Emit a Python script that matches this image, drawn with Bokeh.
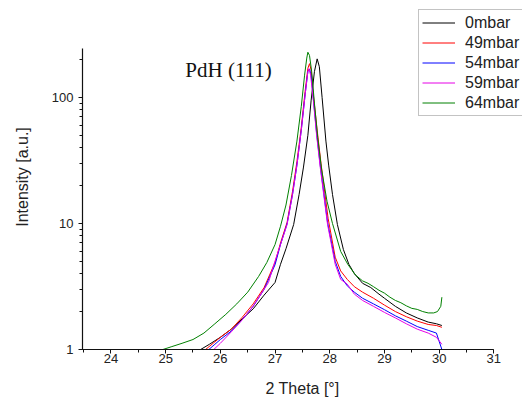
from bokeh.plotting import figure
from bokeh.models import (Range1d, SingleIntervalTicker, LogTicker, BasicTickFormatter,
                          Legend, LegendItem, Label)
from bokeh.embed import file_html
from bokeh.resources import INLINE

# ---- data ----
x_0 = [25.64, 25.8, 26.0, 26.2, 26.4, 26.6, 26.8, 27.0, 27.1, 27.2, 27.34, 27.44, 27.52,
       27.60, 27.66, 27.72, 27.77, 27.81, 27.86, 27.93, 27.98, 28.05, 28.14, 28.25, 28.35,
       28.45, 28.6, 28.75, 28.9, 29.0, 29.2, 29.4, 29.6, 29.8, 29.95, 30.05]
y_0 = [1.0, 1.1, 1.25, 1.45, 1.75, 2.1, 2.7, 3.4, 4.74, 6.3, 9.8, 17, 28,
       50, 95, 160, 202, 175, 100, 45, 29, 17, 9.8, 6.2, 4.74,
       4.0, 3.35, 3.1, 2.75, 2.55, 2.2, 1.95, 1.78, 1.65, 1.6, 1.55]

x_49 = [25.73, 25.9, 26.0, 26.2, 26.4, 26.6, 26.8, 27.0, 27.1, 27.22, 27.32, 27.40, 27.48,
        27.55, 27.60, 27.63, 27.66, 27.70, 27.77, 27.84, 27.97, 28.1, 28.2, 28.32, 28.45,
        28.6, 28.8, 29.0, 29.2, 29.4, 29.6, 29.8, 29.95, 30.05]
y_49 = [1.0, 1.15, 1.25, 1.45, 1.8, 2.3, 3.1, 4.9, 7.0, 10.2, 18, 31, 58,
        112, 170, 185, 165, 105, 55, 30, 11, 5.4, 4.2, 3.6, 3.15,
        2.85, 2.55, 2.25, 2.0, 1.82, 1.68, 1.58, 1.55, 1.5]

x_54 = [25.79, 25.9, 26.0, 26.2, 26.4, 26.6, 26.8, 27.0, 27.1, 27.22, 27.32, 27.40, 27.48,
        27.55, 27.60, 27.63, 27.66, 27.70, 27.76, 27.83, 27.96, 28.1, 28.2, 28.32, 28.45,
        28.6, 28.8, 29.0, 29.2, 29.4, 29.6, 29.8, 29.95, 30.05]
y_54 = [1.0, 1.1, 1.2, 1.4, 1.72, 2.2, 3.0, 4.7, 6.8, 9.9, 17, 29, 55,
        105, 160, 168, 150, 98, 52, 28, 10.2, 5.0, 3.8, 3.2, 2.85,
        2.55, 2.3, 2.07, 1.85, 1.68, 1.52, 1.42, 1.35, 1.0]

x_59 = [25.88, 26.0, 26.2, 26.4, 26.6, 26.8, 26.88, 26.98, 27.1, 27.22, 27.32, 27.40, 27.48,
        27.55, 27.60, 27.62, 27.65, 27.70, 27.76, 27.83, 27.96, 28.1, 28.2, 28.32, 28.45,
        28.6, 28.8, 29.0, 29.2, 29.4, 29.6, 29.8, 29.95, 30.05]
y_59 = [1.0, 1.12, 1.38, 1.72, 2.2, 3.0, 3.4, 4.74, 6.8, 9.8, 17, 29, 55,
        105, 160, 169, 150, 95, 50, 27, 9.8, 4.74, 3.6, 3.3, 2.75,
        2.45, 2.2, 1.97, 1.78, 1.6, 1.45, 1.35, 1.25, 1.1]

x_64 = [24.95, 25.1, 25.3, 25.5, 25.7, 25.9, 26.1, 26.3, 26.5, 26.7, 26.85, 27.0, 27.1,
        27.2, 27.3, 27.4, 27.48, 27.54, 27.58, 27.60, 27.63, 27.67, 27.72, 27.78, 27.85,
        27.95, 28.05, 28.2, 28.33, 28.47, 28.6, 28.7, 28.8, 28.9, 29.0, 29.1, 29.2, 29.3,
        29.4, 29.5, 29.6, 29.7, 29.8, 29.9, 29.97, 30.03, 30.05]
y_64 = [1.0, 1.05, 1.12, 1.2, 1.35, 1.6, 1.9, 2.3, 2.85, 3.8, 4.9, 6.8, 9.5,
        14, 24, 45, 85, 150, 205, 228, 215, 160, 90, 48, 27,
        15, 10, 6.0, 4.74, 3.9, 3.5, 3.35, 3.15, 2.95, 2.8, 2.6, 2.45, 2.35,
        2.22, 2.12, 2.08, 2.0, 1.95, 1.95, 2.0, 2.2, 2.6]

series_labels = ["0mbar", "49mbar", "54mbar", "59mbar", "64mbar"]
series_x = [x_0, x_49, x_54, x_59, x_64]
series_y = [y_0, y_49, y_54, y_59, y_64]
series_colors = ["#000000", "#ff0000", "#0000ff", "#e600e6", "#008000"]

annotation_text = "PdH (111)"
annotation_pos = (26.15, 165)

x_label = "2 Theta [°]"
y_label = "Intensity [a.u.]"

x_axis_span = (23.48, 31)
y_axis_span = (1, 245)

# ---- layout (pixels) ----
W, H = 522, 399
LEFT, TOP, BOTTOM = 82, 4, 48
PX_PER_X = 54.7          # pixels per degree
PX_PER_DECADE = 126.8    # pixels per decade
frame_w = W - LEFT
frame_h = H - TOP - BOTTOM
x_end = x_axis_span[0] + frame_w / PX_PER_X
y_end = 10 ** (frame_h / PX_PER_DECADE)

FONT = "Liberation Sans"
p = figure(width=W, height=H, y_axis_type="log",
           x_range=Range1d(x_axis_span[0], x_end), y_range=Range1d(1, y_end),
           output_backend="svg", toolbar_location=None,
           min_border_left=LEFT, min_border_right=0, min_border_top=TOP, min_border_bottom=BOTTOM)
p.outline_line_color = None
p.grid.visible = False
p.background_fill_color = "white"
p.border_fill_color = "white"

p.xaxis.ticker = SingleIntervalTicker(interval=1, num_minor_ticks=2)
p.yaxis.ticker = LogTicker(num_minor_ticks=10)
p.yaxis.formatter = BasicTickFormatter()
p.xaxis.bounds = x_axis_span
p.yaxis.bounds = y_axis_span

for ax in (p.xaxis[0], p.yaxis[0]):
    ax.axis_line_color = "#111111"
    ax.axis_line_width = 1.2
    ax.major_tick_line_color = "#111111"
    ax.minor_tick_line_color = "#111111"
    ax.major_tick_in = 0
    ax.major_tick_out = 4
    ax.minor_tick_in = 0
    ax.minor_tick_out = 3
    ax.major_label_text_font = FONT
    ax.major_label_text_font_size = "13px"
    ax.major_label_text_color = "#222222"
    ax.axis_label_text_font = FONT
    ax.axis_label_text_font_size = "16px"
    ax.axis_label_text_font_style = "normal"
    ax.axis_label_text_color = "#222222"

p.xaxis.axis_label = x_label
p.yaxis.axis_label = y_label
p.xaxis.major_label_standoff = 0
p.xaxis.axis_label_standoff = 14
p.yaxis.major_label_standoff = 5
p.yaxis.axis_label_standoff = 18

renderers = []
for xs, ys, c in zip(series_x, series_y, series_colors):
    r = p.line(xs, ys, line_color=c, line_width=1)
    renderers.append(r)

legend = Legend(items=[LegendItem(label=l, renderers=[r]) for l, r in zip(series_labels, renderers)],
                location=(336, 233), orientation="vertical")
legend.label_text_font = FONT
legend.label_text_font_size = "16px"
legend.label_text_color = "#222222"
legend.glyph_width = 33
legend.glyph_height = 19
legend.label_height = 19
legend.label_standoff = 10
legend.spacing = 1
legend.padding = 3
legend.margin = 0
legend.border_line_color = "#888888"
legend.border_line_width = 1
legend.background_fill_alpha = 1
p.add_layout(legend, "center")

lab = Label(x=annotation_pos[0], y=annotation_pos[1], text=annotation_text,
            text_font="Liberation Serif", text_font_size="21px", text_align="center",
            text_baseline="middle", text_color="#111111")
p.add_layout(lab)

open("out.html", "w").write(file_html(p, INLINE))
